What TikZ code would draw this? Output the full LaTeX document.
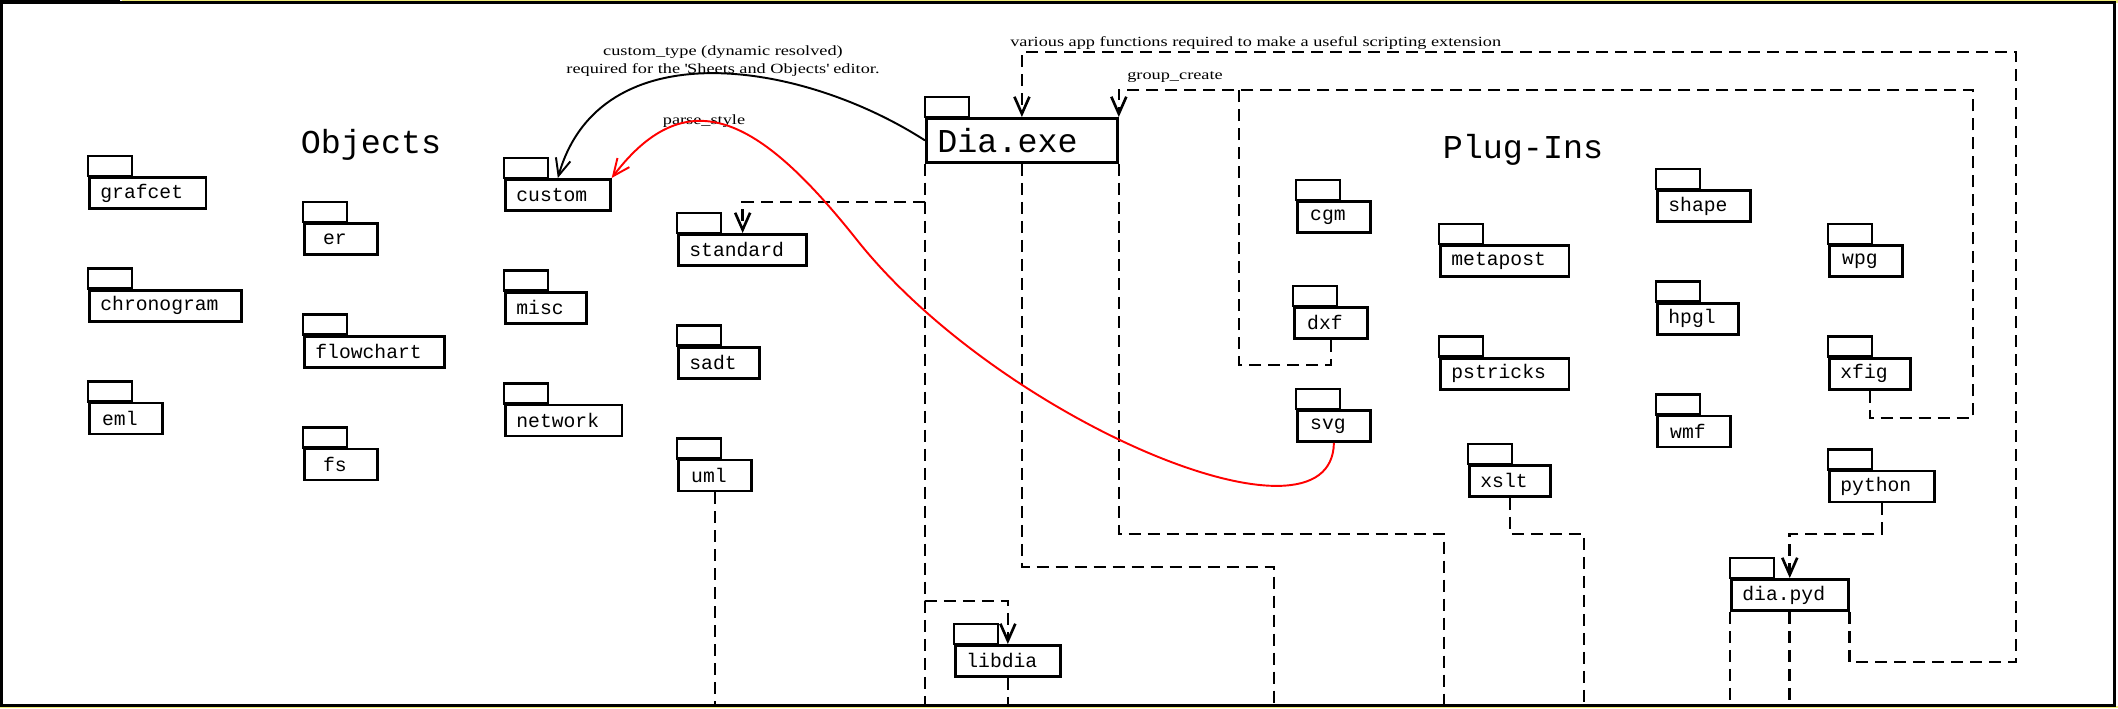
\documentclass[tikz,border=0pt]{standalone}
\usepackage{fontspec}
\usepackage{tikz}
\usetikzlibrary{positioning,arrows.meta}
\newfontfamily\monofamily{Liberation Mono}
\newfontfamily\notefamily[FakeStretch=1.3]{Liberation Serif}
\newcommand{\pkgfont}{\monofamily\fontsize{11.2}{13}\selectfont}
\newcommand{\groupfont}{\monofamily\fontsize{19}{22}\selectfont}
\newcommand{\notefont}{\notefamily\fontsize{8}{10}\selectfont}
\definecolor{frameyellow}{RGB}{240,236,120}
\tikzstyle{package} = [rectangle, draw, line width=1.6pt, anchor=north west, font=\pkgfont,
    minimum width=1.46cm, minimum height=0.62cm, inner xsep=0.22cm, inner ysep=0pt,
    execute at end node={\hspace{0.24cm}}]
\tikzset{under/.style={below=1.58cm of #1.south west, anchor=north west}}
\tikzstyle{line} = [draw, line width=1.5pt, dash pattern=on 0.24cm off 0.14cm]
\tikzstyle{dep} = [line, -{Straight Barb[length=0.34cm,width=0.3cm]}]
\tikzstyle{call} = [draw, line width=1.1pt, -{Straight Barb[length=0.34cm,width=0.3cm]}]
\tikzstyle{note} = [font=\notefont, inner sep=0pt]
\begin{document}
\begin{tikzpicture}
    \useasboundingbox (0,0) rectangle (42.36,-14.16);
    % Frame
    \fill [frameyellow] (2.44,0) rectangle (42.36,-0.05);
    \fill [frameyellow] (0,-14.12) rectangle (42.36,-14.16);
    \fill (0,0) rectangle (2.4,-0.06);
    \draw [line width=0.06cm] (0.03,-0.05) rectangle (42.29,-14.1);
    % Place nodes
    \node [font=\groupfont] (objects) at (7.42,-2.9) {Objects};
    \node [font=\groupfont] (plugins) at (30.46,-3.0) {Plug-Ins};
    \node [package] (grafcet) at (1.76,-3.52) {grafcet};
    \node [package, under=grafcet] (chronogram) {chronogram};
    \node [package, under=chronogram] (eml) {eml};
    \node [package] (er) at (6.06,-4.44) {er};
    \node [package, under=er] (flowchart) {flowchart};
    \node [package, under=flowchart] (fs) {fs};
    \node [package] (custom) at (10.08,-3.56) {custom};
    \node [package, under=custom] (misc) {misc};
    \node [package, under=misc] (network) {network};
    \node [package] (standard) at (13.54,-4.66) {standard};
    \node [package, under=standard] (sadt) {sadt};
    \node [package, under=sadt] (uml) {uml};
    \node [package, font=\groupfont, text width=3.38cm, minimum height=0.88cm] (dia) at (18.5,-2.34) {Dia.exe};
    \node [package] (libdia) at (19.08,-12.88) {libdia};
    \node [package] (cgm) at (25.92,-4.0) {cgm};
    \node [package] (dxf) at (25.86,-6.12) {dxf};
    \node [package] (svg) at (25.92,-8.18) {svg};
    \node [package] (metapost) at (28.78,-4.88) {metapost};
    \node [package, under=metapost] (pstricks) {pstricks};
    \node [package] (xslt) at (29.36,-9.28) {xslt};
    \node [package] (shape) at (33.12,-3.78) {shape};
    \node [package, under=shape] (hpgl) {hpgl};
    \node [package, under=hpgl] (wmf) {wmf};
    \node [package] (wpg) at (36.56,-4.88) {wpg};
    \node [package, under=wpg] (xfig) {xfig};
    \node [package, under=xfig] (python) {python};
    \node [package] (diapyd) at (34.6,-11.56) {dia.pyd};
    \foreach \p in {grafcet,chronogram,eml,er,flowchart,fs,custom,misc,network,standard,sadt,uml,
        dia,libdia,cgm,dxf,svg,metapost,pstricks,xslt,shape,hpgl,wmf,wpg,xfig,python,diapyd}
        \draw [line width=1.6pt] (\p.north west) rectangle ++(0.88,0.4);
    % Bends
    \coordinate (bottom) at (0,-14.1);
    \coordinate (midbend) at (25.48,-11.34);
    \coordinate (rightbend) at (28.88,-10.68);
    \coordinate (xsltbend) at (31.68,-10.68);
    \coordinate (pydbend) at (40.32,-13.24);
    \coordinate (xfigbend) at (39.46,-8.36);
    \coordinate (dxfbend) at (24.78,-7.3);
    \coordinate (groupjoin) at (24.78,-1.8);
    % Labels
    \node [note, align=center] (customtype) at (14.46,-1.22) {custom\_type (dynamic resolved)\\required for the \textquotesingle Sheets and Objects\textquotesingle{} editor.};
    \node [note] (parsestyle) at (14.08,-2.42) {parse\_style};
    \node [note, anchor=west] (various) at (20.2,-0.86) {various app functions required to make a useful scripting extension};
    \node [note, anchor=west] (groupcreate) at (22.54,-1.54) {group\_create};
    % Draw edges
    \path [dep] (dia.south west) |- ([yshift=0.62cm]standard.north) -- (standard.north);
    \path [dep] (dia.south west) |- ([yshift=0.86cm]libdia.north) -- (libdia.north);
    \path [line] (dia.south west) -- (dia.south west |- bottom);
    \path [line] (dia.south) |- (midbend) -- (midbend |- bottom);
    \path [line] (dia.south east) |- (rightbend) -- (rightbend |- bottom);
    \path [line] (uml.south) -- (uml.south |- bottom);
    \path [line] (libdia.south) -- (libdia.south |- bottom);
    \path [line] (xslt.south) |- (xsltbend) -- (xsltbend |- bottom);
    \path [dep] (python.south) |- ([yshift=0.88cm]diapyd.north) -- (diapyd.north);
    \path [line] (diapyd.south west) -- (diapyd.south west |- bottom);
    \path [line] (diapyd.south) -- (diapyd.south |- bottom);
    \path [dep] (diapyd.south east) |- (pydbend) |- ([yshift=1.3cm]dia.north) -- (dia.north);
    \path [dep] (xfig.south) |- (xfigbend) |- ([yshift=0.54cm]dia.north east) -- (dia.north east);
    \path [line] (dxf.south) |- (dxfbend) -- (groupjoin);
    \path [call] (dia.west) .. controls (16,-1.2) and (12,-0.6) .. (custom.north);
    \path [call, red] (svg.south) .. controls (26.64,-11.2) and (20,-8.4) .. (17.14,-4.8)
        .. controls (15.28,-2.46) and (13.8,-1.5) .. (custom.north east);
\end{tikzpicture}
\end{document}
